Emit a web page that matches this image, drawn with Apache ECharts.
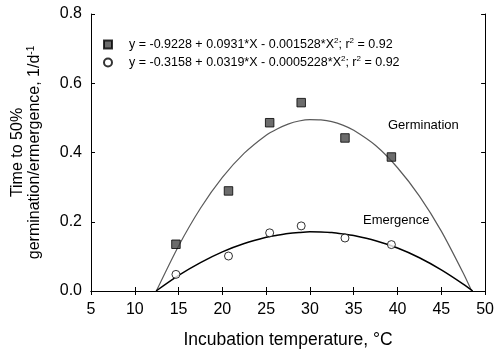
<!DOCTYPE html>
<html>
<head>
<meta charset="utf-8">
<script src="https://cdn.jsdelivr.net/npm/echarts@6/dist/echarts.min.js"></script>
<style>
html, body { margin: 0; padding: 0; background: #fff; }
#chart { width: 497px; height: 354px; }
</style>
</head>
<body>
<div id="chart"></div>
<script>
// measured points, [temperature, 1/d]
const germPoints = [[14.7, 0.135], [20.7, 0.289], [25.4, 0.486], [29.0, 0.544], [34.0, 0.442], [39.3, 0.387]]
const emerPoints = [[14.7, 0.048], [20.7, 0.101], [25.4, 0.168], [29.0, 0.188], [34.0, 0.153], [39.3, 0.134]]

// fitted curves
const germCurve = [[12.46, 0], [15, 0.130], [17.5, 0.239], [20, 0.328], [22.5, 0.398], [25, 0.450], [26.25, 0.468],
  [27.5, 0.482], [28.75, 0.491], [30, 0.495], [31.25, 0.494], [32.5, 0.489], [33.75, 0.479], [35, 0.464],
  [37.5, 0.420], [40, 0.356], [42.5, 0.274], [45, 0.173], [47.5, 0.052], [48.47, 0]]
const emerCurve = [[12.43, 0], [15, 0.045], [17.5, 0.082], [20, 0.113], [22.5, 0.137], [25, 0.155], [26.25, 0.161],
  [27.5, 0.166], [28.75, 0.169], [30, 0.171], [31.25, 0.1705], [32.5, 0.169], [33.75, 0.165], [35, 0.160],
  [37.5, 0.145], [40, 0.124], [42.5, 0.096], [45, 0.061], [47.5, 0.020], [48.59, 0]]

const legendText = {
  Germination: '{t|y = -0.9228 + 0.0931*X - 0.001528*X}{s|2}{t|; r}{s|2}{t| = 0.92}',
  Emergence: '{t|y = -0.3158 + 0.0319*X - 0.0005228*X}{s|2}{t|; r}{s|2}{t| = 0.92}',
}

const font = 'Liberation Sans, Arial, sans-serif'
const chart = echarts.init(document.getElementById('chart'))

const axisLine = { show: true, lineStyle: { color: '#000', width: 1 } }
const tick = { show: true, inside: true, length: 4, lineStyle: { color: '#000' } }

chart.setOption({
  animation: false,
  textStyle: { fontFamily: font },
  grid: { left: 91, right: 11, top: 14, bottom: 63 },
  legend: {
    orient: 'vertical',
    left: 103,
    top: 37,
    padding: 0,
    itemGap: 4,
    itemWidth: 8,
    itemHeight: 8,
    data: [
      { name: 'Germination', icon: 'rect' },
      { name: 'Emergence', icon: 'circle' },
    ],
    formatter: (name) => legendText[name],
    textStyle: {
      padding: [0, 0, 0, 12],
      rich: {
        t: { fontSize: 12.5, color: '#000', fontFamily: font, lineHeight: 15 },
        s: { fontSize: 8, color: '#000', fontFamily: font, verticalAlign: 'top', lineHeight: 15 },
      },
    },
  },
  xAxis: [
    {
      type: 'value', min: 5, max: 50, interval: 5,
      axisLine, axisTick: tick, splitLine: { show: false },
      axisLabel: { color: '#000', fontSize: 16, margin: 11 },
      name: 'Incubation temperature, °C',
      nameLocation: 'middle',
      nameGap: 40,
      nameTextStyle: { color: '#000', fontSize: 17.5 },
    },
    {
      type: 'value', min: 5, max: 50, interval: 5, position: 'top',
      axisLine, axisTick: tick, splitLine: { show: false }, axisLabel: { show: false },
    },
  ],
  yAxis: [
    {
      type: 'value', min: 0, max: 0.8, interval: 0.2,
      axisLine, axisTick: tick, splitLine: { show: false },
      axisLabel: { color: '#000', fontSize: 16, margin: 9, formatter: (v) => v.toFixed(1) },
      name: '{a|Time to 50%}\n{a|germination/ermergence, 1/d}{s|-1}',
      nameLocation: 'middle',
      nameGap: 48,
      nameTextStyle: {
        lineHeight: 17,
        rich: {
          a: { fontSize: 16, color: '#000', fontFamily: font, lineHeight: 17 },
          s: { fontSize: 10, color: '#000', fontFamily: font, verticalAlign: 'top', lineHeight: 17 },
        },
      },
    },
    {
      type: 'value', min: 0, max: 0.8, interval: 0.2, position: 'right',
      axisLine, axisTick: tick, splitLine: { show: false }, axisLabel: { show: false },
    },
  ],
  series: [
    {
      name: 'GermFit', type: 'line', data: germCurve, smooth: 0.25, showSymbol: false,
      lineStyle: { color: '#5a5a5a', width: 1.2 }, z: 2,
    },
    {
      name: 'EmerFit', type: 'line', data: emerCurve, smooth: 0.25, showSymbol: false,
      lineStyle: { color: '#000', width: 1.5 }, z: 2,
    },
    {
      name: 'Germination', type: 'scatter', data: germPoints, symbol: 'rect', symbolSize: 8.5,
      itemStyle: { color: '#474747', borderColor: '#000', borderWidth: 1 }, z: 3,
    },
    {
      name: 'Emergence', type: 'scatter', data: emerPoints, symbol: 'circle', symbolSize: 8,
      itemStyle: { color: '#fff', borderColor: '#000', borderWidth: 1 }, z: 3,
    },
  ],
  graphic: [
    { type: 'text', left: 388, top: 119, style: { text: 'Germination', fill: '#000', font: '13px ' + font } },
    { type: 'text', left: 363, top: 214, style: { text: 'Emergence', fill: '#000', font: '13px ' + font } },
  ],
})
</script>
</body>
</html>
